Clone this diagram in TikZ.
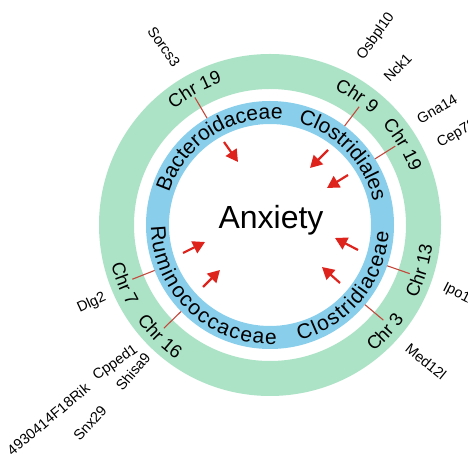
\documentclass[tikz,border=0pt]{standalone}
\usepackage{fontspec}
\setmainfont{Liberation Sans}
\usetikzlibrary{decorations.text,arrows.meta}
\definecolor{ringgreen}{RGB}{172,227,198}
\definecolor{ringblue}{RGB}{137,206,234}
\definecolor{linkred}{RGB}{196,72,60}
\definecolor{arrowred}{RGB}{222,34,28}
\newcommand{\fontChr}{\fontsize{18.5bp}{20bp}\selectfont}
\newcommand{\fontFam}{\fontsize{21bp}{24bp}\selectfont}
\newcommand{\fontGene}{\fontsize{14.5bp}{16bp}\selectfont}
\newcommand{\cwlabel}[4]{\path[decorate,decoration={text along path,text align=center,text={|#3|#4}}] ({#1+50}:#2) arc[start angle={#1+50},end angle={#1-50},radius=#2];}
\newcommand{\ccwlabel}[4]{\path[decorate,decoration={text along path,text align=center,text={|#3|#4}}] ({#1-50}:#2) arc[start angle={#1-50},end angle={#1+50},radius=#2];}
% text spread over an exact arc: #1 start angle, #2 end angle, #3 radius, #4 font, #5 text
\newcommand{\fitlabel}[5]{\path[decorate,decoration={text along path,text align=fit to path,text={|#4|#5}}] ({#1}:#3) arc[start angle={#1},end angle={#2},radius=#3];}
\begin{document}
\begin{tikzpicture}[x=1bp,y=1bp,
  genelabel/.style={font=\fontGene,inner sep=0pt},
  linkline/.style={draw=linkred,line width=1.1bp},
  inarrow/.style={draw=arrowred,line width=2.2bp,-{Triangle[length=12bp,width=13bp]}}]
\useasboundingbox (-270,-243) rectangle (198,225);
\clip (-270,-243) rectangle (198,225);
\coordinate (ctr) at (0,0);
% rings
\fill[ringgreen,even odd rule] (ctr) circle[radius=171] (ctr) circle[radius=136];
\fill[ringblue,even odd rule] (ctr) circle[radius=124] (ctr) circle[radius=101];
% centre
\node[font=\fontsize{32bp}{36bp}\selectfont,inner sep=0pt] (anx) at (1,5) {Anxiety};
% family labels
\cwlabel{122.8}{106}{\fontFam}{Bacteroidaceae}
\cwlabel{43.7}{106}{\fontFam}{Clostridiales}
\fitlabel{-75.7}{-3.3}{119}{\fontFam}{Clostridiaceae}
\fitlabel{180.5}{273.3}{119}{\fontFam}{Ruminococcaceae}
% chromosome labels
\cwlabel{119.1}{150.3}{\fontChr}{Chr 19}
\cwlabel{56}{150.3}{\fontChr}{Chr 9}
\cwlabel{31.1}{150.3}{\fontChr}{Chr 19}
\ccwlabel{-17}{163.7}{\fontChr}{Chr 13}
\ccwlabel{-42.9}{163.7}{\fontChr}{Chr 3}
\ccwlabel{225.3}{163.7}{\fontChr}{Chr 16}
\ccwlabel{201.9}{163.7}{\fontChr}{Chr 7}
% link lines
\foreach \a/\n in {120.5/a,53/b,32.2/c,-19.2/d,-40/e,224.2/f,201.5/g}{
  \coordinate (lo\n) at (\a:148);
  \coordinate (li\n) at (\a:124);
  \draw[linkline] (lo\n) -- (li\n);
}
% arrows
\coordinate (t1) at (-46,83); \coordinate (h1) at (-32,63);
\coordinate (t2) at (58,75);  \coordinate (h2) at (40,57);
\coordinate (t3) at (78,50);  \coordinate (h3) at (57,37);
\coordinate (t4) at (88,-25); \coordinate (h4) at (65,-13);
\coordinate (t5) at (70,-58); \coordinate (h5) at (52,-42);
\coordinate (t6) at (-87,-28); \coordinate (h6) at (-65,-17);
\coordinate (t7) at (-67,-62); \coordinate (h7) at (-50,-45);
\foreach \i in {1,...,7}{\draw[inarrow] (t\i) -- (h\i);}
% gene labels
\node[genelabel,rotate=-55] (g1) at (-106,178) {Sorcs3};
\node[genelabel,rotate=55] (g2) at (106,188.5) {Osbpl10};
\node[genelabel,rotate=46] (g3) at (127.5,157.5) {Nck1};
\node[genelabel,rotate=30] (g4) at (167,116) {Gna14};
\node[genelabel,rotate=30] (g5) at (187,91) {Cep78};
\node[genelabel,rotate=-27] (g6) at (189.5,-70) {Ipo11};
\node[genelabel,rotate=-39] (g7) at (156,-136.5) {Med12l};
\node[genelabel,rotate=25] (g8) at (-178.3,-78.3) {Dlg2};
\node[genelabel,rotate=35] (g9) at (-154.5,-138) {Cpped1};
\node[genelabel,rotate=50] (g10) at (-137,-146.5) {Shisa9};
\node[genelabel,rotate=40] (g11) at (-221.7,-194.2) {4930414F18Rik};
\node[genelabel,rotate=48] (g12) at (-180,-198.3) {Snx29};
\end{tikzpicture}
\end{document}
